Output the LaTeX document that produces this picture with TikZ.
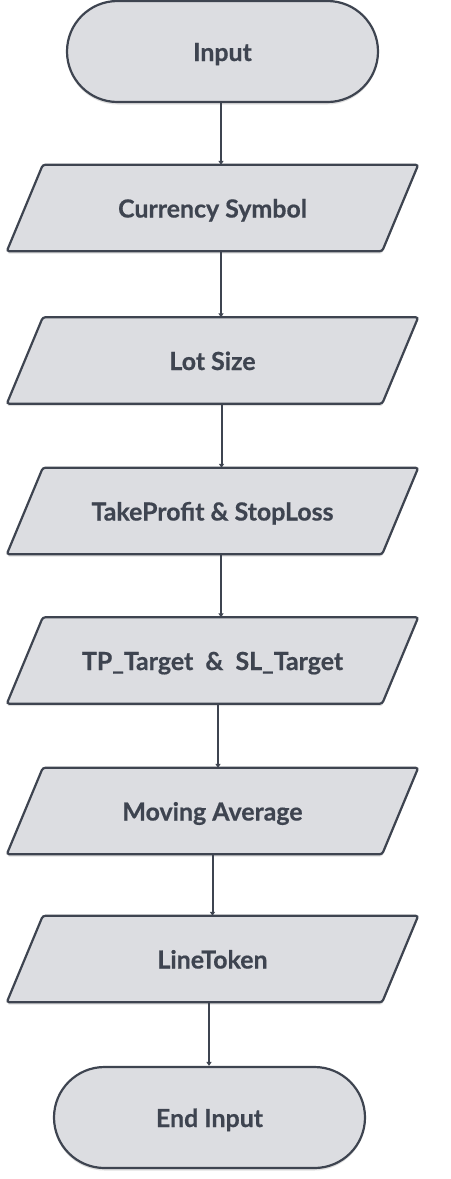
\documentclass[tikz,border=0pt]{standalone}
\usepackage{fontspec}
\setmainfont{Lato}[BoldFeatures={FakeBold=0.6}]
\usetikzlibrary{shapes.misc,arrows.meta,backgrounds,shadows}
\definecolor{edge}{HTML}{3E4450}
\definecolor{boxfill}{HTML}{DCDDE1}
\tikzset{
  lbl/.style={font=\bfseries\fontsize{25}{29}\selectfont, text=edge},
  shade/.style={drop shadow={shadow xshift=0bp, shadow yshift=-2.5bp, fill=black, opacity=0.12}},
  term/.style={lbl, rounded rectangle, draw=edge, fill=boxfill, line width=2.2bp,
    minimum width=311bp, minimum height=101bp, inner sep=0pt, shade},
  pbox/.style={lbl, rectangle, minimum width=375bp, minimum height=86bp, inner sep=0pt},
  pframe/.style={draw=edge, fill=boxfill, line width=2.2bp, rounded corners=2.5bp, shade},
  conn/.style={draw=edge, line width=2bp, -{Triangle[width=5bp,length=4bp]}},
}
\newcommand\pgramof[1]{%
  \path[pframe] ([xshift=-18bp]#1.south west) -- ([xshift=18bp]#1.north west)
    -- ([xshift=18bp]#1.north east) -- ([xshift=-18bp]#1.south east) -- cycle;}
\newcommand\lowtxt[1]{\raisebox{-9.5bp}[0pt][0pt]{#1}}
\begin{document}
\begin{tikzpicture}[x=1bp,y=-1bp]
\useasboundingbox (0,0) rectangle (451,1179);
\node[term] (in) at (222.5,51.5) {\lowtxt{Input}};
\node[pbox] (cs) at (212.5,208) {\lowtxt{Currency Symbol}};
\node[pbox] (ls) at (212.5,360.5) {\lowtxt{Lot Size}};
\node[pbox] (tp) at (212.5,511) {\lowtxt{TakeProfit \& StopLoss}};
\node[pbox] (tt) at (212.5,660.5) {\lowtxt{TP\_Target\ \ \&\ \ SL\_Target}};
\node[pbox] (ma) at (212.5,811) {\lowtxt{Moving Average}};
\node[pbox] (lt) at (212.5,959) {\lowtxt{LineToken}};
\node[term] (en) at (209.5,1117.5) {\lowtxt{End Input}};
\begin{scope}[on background layer]
  \pgramof{cs}\pgramof{ls}\pgramof{tp}\pgramof{tt}\pgramof{ma}\pgramof{lt}
\end{scope}
\draw[conn] ([xshift=-1.5bp]in.south) -- ([xshift=-1.5bp]in.south |- cs.north);
\draw[conn] ([xshift=8.5bp]cs.south) -- ([xshift=8.5bp]cs.south |- ls.north);
\draw[conn] ([xshift=9bp]ls.south) -- ([xshift=9bp]ls.south |- tp.north);
\draw[conn] ([xshift=8.5bp]tp.south) -- ([xshift=8.5bp]tp.south |- tt.north);
\draw[conn] ([xshift=5.5bp]tt.south) -- ([xshift=5.5bp]tt.south |- ma.north);
\draw[conn] (ma.south) -- (ma.south |- lt.north);
\draw[conn] ([xshift=-3.5bp]lt.south) -- ([xshift=-3.5bp]lt.south |- en.north);
\end{tikzpicture}
\end{document}
